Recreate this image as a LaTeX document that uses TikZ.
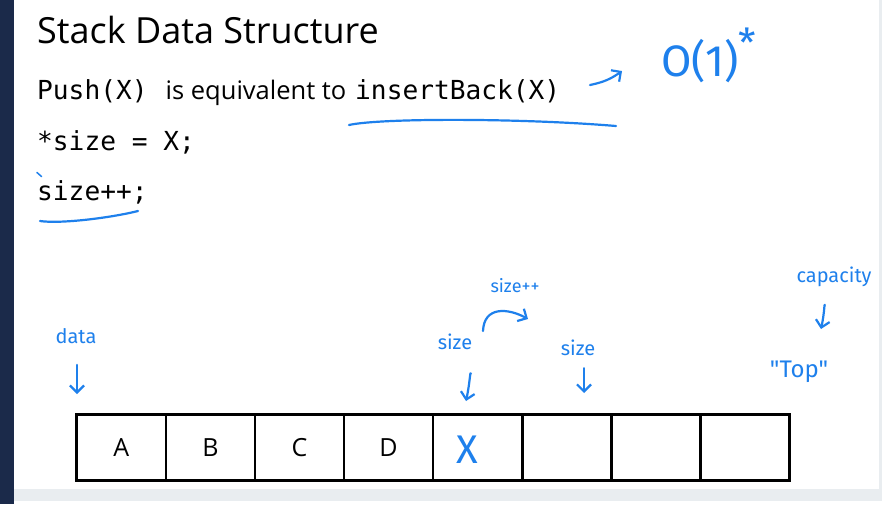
\documentclass[tikz,border=0pt]{standalone}
\usepackage{fontspec}
\setmainfont{Open Sans}
\setmonofont{DejaVu Sans Mono}
\newfontfamily\handfont{Fira Sans}
\usetikzlibrary{arrows.meta,positioning}
\definecolor{slidebar}{RGB}{27,42,74}
\definecolor{handblue}{RGB}{30,128,236}
\definecolor{stripgray}{RGB}{233,237,240}

\begin{document}
\begin{tikzpicture}
  [
  x=1pt, y=-1pt,
  txt/.style={anchor=base west, inner sep=0pt, font=\fontsize{25.5}{25.5}\selectfont},
  code/.style={txt, font=\ttfamily\fontsize{26.2}{26.2}\selectfont},
  cell/.style={draw, line width=2.6pt, minimum width=89.1pt, minimum height=66.5pt, inner sep=0pt, outer sep=0pt, font=\fontsize{25}{25}\selectfont},
  hand/.style={text=handblue, inner sep=0pt, font=\handfont\fontsize{20}{20}\selectfont},
  handline/.style={draw=handblue, line width=2.2pt, line cap=round, line join=round},
  handarr/.style={handline, -{Straight Barb[length=7pt,width=14pt]}}
  ]
  \useasboundingbox (0,0) rectangle (882,504);
  \fill[white] (0,0) rectangle (882,504);
  \fill[slidebar] (0,0) rectangle (13.5,504);
  \fill[stripgray] (13.5,489) rectangle (882,501);
  \fill[stripgray] (878.5,0) rectangle (882,489);

  \node[txt, font=\fontsize{36}{36}\selectfont] (title) at (37,43) {Stack Data Structure};
  \node[code] (push) at (37,99.5) {Push(X)};
  \node[txt] (equiv) at (165.5,99.5) {is equivalent to};
  \node[code] (insert) at (355,99.5) {insertBack(X)};
  \node[code] (assign) at (37,150) {*size = X;};
  \node[code] (incr) at (37,200) {size++;};

  \foreach \lbl [count=\i] in {A,B,C,D,{},{},{},{}}
    \node[cell] (c\i) at ({121.25+(\i-1)*89.1}, 447.5) {\lbl};
  \node[hand, font=\handfont\fontsize{40}{40}\selectfont] (xval) at (467,450) {X};

  % handwritten notes
  \node[hand, font=\handfont\fontsize{44}{44}\selectfont, anchor=base west] (bigo) at (661,76) {O(1)\raisebox{0.42em}{\fontsize{40}{40}\selectfont*}};
  \node[hand] (data) at (76,336) {data};
  \node[hand] (size1) at (455,342) {size};
  \node[hand, font=\handfont\fontsize{18}{18}\selectfont] (sizeinc) at (515,286) {size++};
  \node[hand] (size2) at (578,348) {size};
  \node[hand] (capacity) at (834,277) {capacity};
  \node[hand, font=\handfont\fontsize{24}{24}\selectfont] (top) at (799,372) {"Top"};

  \coordinate (dataTip) at (77,394);
  \coordinate (size1Tip) at (466,401);
  \coordinate (size2Tip) at (584,393);
  \coordinate (capTip) at (821,329);
  \coordinate (incStart) at (483,331);
  \coordinate (incEnd) at (528,319);
  \coordinate (bigoTail) at (590,85);
  \coordinate (bigoTip) at (622,71);

  \draw[handarr, shorten <=21pt] (data.south -| dataTip) -- (dataTip);
  \draw[handarr, shorten <=24pt] (size1.south -| size1Tip) to[bend left=12] (size1Tip);
  \draw[handarr, shorten <=12pt] (size2.south -| size2Tip) -- (size2Tip);
  \draw[handarr, shorten <=18pt] (capacity.south -| capTip) to[bend left=12] (capTip);
  \draw[handarr] (incStart) .. controls (484,306) and (508,308) .. (incEnd);
  \draw[handarr] (bigoTail) to[bend right=12] (bigoTip);

  \draw[handline] (349,125) .. controls (380,118) and (520,118) .. (616,126);
  \draw[handline] (40,221) .. controls (60,224) and (110,218) .. (138,211);
  \draw[handline, line width=1.5pt] (37,172.5) -- (41.5,176.5);
\end{tikzpicture}
\end{document}
